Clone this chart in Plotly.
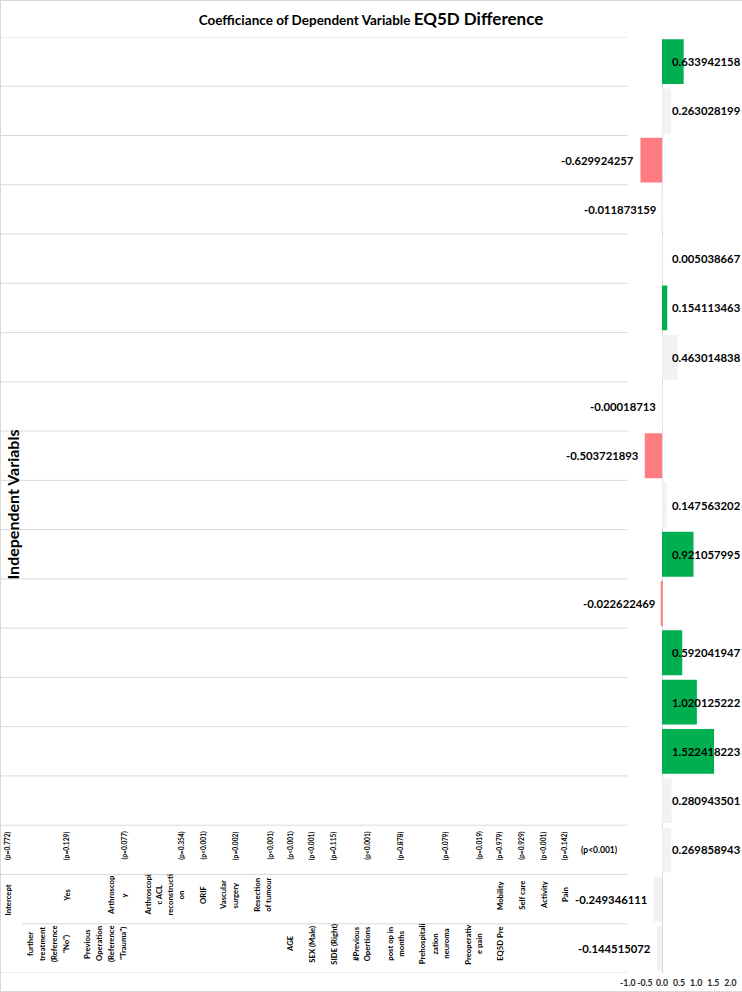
import plotly.graph_objects as go

W, H = 742, 992
MT, MB = 37, 19
PH = H - MT - MB

# ---------------- data (bottom-to-top order, as Excel draws categories) ----------------
categories = ["Intercept", "Yes", "Arthroscopy", "Arthroscopic ACL reconstruction", "ORIF",
              "Vascular surgery", "Resection of tumour", "AGE", "SEX (Male)", "SIDE (Right)",
              "#Previous Opertions", "post op in months", "Prehospitalization neuroma",
              "Preoperative pain", "Mobility", "Self care", "Activity", "Pain", "EQ5D Pre"]
values = [-0.144515072, -0.249346111, 0.269858943, 0.280943501, 1.522418223, 1.020125222,
          0.592041947, -0.022622469, 0.921057995, 0.147563202, -0.503721893, -0.00018713,
          0.463014838, 0.154113463, 0.005038667, -0.011873159, -0.629924257, 0.263028199,
          0.633942158]
value_text = ["-0.144515072", "-0.249346111", "0.269858943", "0.280943501", "1.522418223",
              "1.020125222", "0.592041947", "-0.022622469", "0.921057995", "0.147563202",
              "-0.503721893", "-0.00018713", "0.463014838", "0.154113463", "0.005038667",
              "-0.011873159", "-0.629924257", "0.263028199", "0.633942158"]
p_values = ["(p=0.772)", "(p=0.129)", "(p=0.077)", "(p=0.354)", "(p<0.001)", "(p=0.002)",
            "(p<0.001)", "(p<0.001)", "(p<0.001)", "(p=0.115)", "(p<0.001)", "(p=0.878)",
            "(p=0.079)", "(p=0.019)", "(p=0.979)", "(p=0.929)", "(p<0.001)", "(p=0.142)",
            "(p<0.001)"]
x_ticks = [-1.0, -0.5, 0.0, 0.5, 1.0, 1.5, 2.0]

# category-table texts (rotated labels drawn under the left part of the chart)
label_lines_mid = ["Intercept", "Yes", "Arthroscop", "y", "Arthroscopi", "c ACL", "reconstructi",
                   "on", "ORIF", "Vascular", "surgery", "Resection", "of tumour", "Mobility",
                   "Self care", "Activity", "Pain"]
label_lines_low = ["further", "treatment", "(Reference", "\"No\")", "Previous", "Operation",
                   "(Reference", "\"Trauma\")", "AGE", "SEX (Male)", "SIDE (Right)", "#Previous",
                   "Opertions", "post op in", "months", "Prehospitali", "zation", "neuroma",
                   "Preoperativ", "e pain", "EQ5D Pre"]

# ---------------- layout positions (pixels) ----------------
p_x_px = [7.5, 66.7, 124, 181.3, 203, 235.7, 270, 290, 311.7, 333.7, 367.3, 400.7, 445.7,
          479, 499.7, 521.3, 543.7, 564.7]
mid_x_px = [7.5, 66.7, 111, 123.5, 147.5, 158.5, 169.5, 180.5, 203, 223, 234.5, 256.7, 267.7,
            500, 521.7, 544, 565]
low_x_px = [30, 42, 54, 66, 87, 99, 111, 123, 290, 311.7, 333.7, 356, 367.3, 389.7, 400.7,
            422.2, 434.5, 445.7, 467.7, 479, 499.7]

FONT = "Lato"
GRID = "#D9D9D9"
GREEN, GREY, RED = "#00B050", "#F2F2F2", "#FF7C80"


def px_x(x):
    return x / W


def px_y(y):
    return (H - MB - y) / PH


def significant(p):
    if "<" in p:
        return True
    return float(p.strip("()").split("=")[1]) < 0.05


colors = []
for v, p in zip(values, p_values):
    if significant(p):
        colors.append(GREEN if v > 0 else RED)
    else:
        colors.append(GREY)

fig = go.Figure()
fig.add_trace(go.Bar(
    x=values, y=categories, orientation="h",
    marker=dict(color=colors, line=dict(width=0)),
    hoverinfo="skip", showlegend=False,
))

ann = []
# value labels
for cat, v, t in zip(categories, values, value_text):
    if v >= 0:
        ann.append(dict(x=0, y=cat, xref="x", yref="y", text=t, showarrow=False,
                        xanchor="left", yanchor="middle", xshift=7.5,
                        font=dict(family=FONT, size=11.3, color="#000000", weight="bold")))
    else:
        ann.append(dict(x=v, y=cat, xref="x", yref="y", text=t, showarrow=False,
                        xanchor="right", yanchor="middle", xshift=-4,
                        font=dict(family=FONT, size=11.3, color="#000000", weight="bold")))

# p-value row (rotated)
for t, xp in zip(p_values[:-1], p_x_px):
    ann.append(dict(x=px_x(xp), y=px_y(829), xref="paper", yref="paper", text=t,
                    showarrow=False, textangle=-90, xanchor="center", yanchor="top",
                    font=dict(family=FONT, size=6.7, color="#000000", weight="bold")))
ann.append(dict(x=px_x(599), y=px_y(850), xref="paper", yref="paper", text=p_values[-1],
                showarrow=False, xanchor="center", yanchor="middle",
                font=dict(family=FONT, size=8.5, color="#000000", weight="bold")))

for t, xp in zip(label_lines_mid, mid_x_px):
    yc = 900 if t == "Intercept" else 895
    ann.append(dict(x=px_x(xp), y=px_y(yc), xref="paper", yref="paper", text=t,
                    showarrow=False, textangle=-90, xanchor="center", yanchor="middle",
                    font=dict(family=FONT, size=7.7, color="#000000", weight="bold")))
for t, xp in zip(label_lines_low, low_x_px):
    ann.append(dict(x=px_x(xp), y=px_y(944), xref="paper", yref="paper", text=t,
                    showarrow=False, textangle=-90, xanchor="center", yanchor="middle",
                    font=dict(family=FONT, size=7.7, color="#000000", weight="bold")))

# axis title
ann.append(dict(x=px_x(11.5), y=px_y(505), xref="paper", yref="paper",
                text="Independent Variabls", showarrow=False, textangle=-90,
                xanchor="center", yanchor="middle",
                font=dict(family=FONT, size=16, color="#000000", weight="bold")))

shapes = []
x_dom0 = 627.8 / W
for k in range(len(categories) + 1):
    x0 = px_x(22) if k == 1 else 0
    shapes.append(dict(type="line", xref="paper", yref="y", x0=x0, x1=x_dom0,
                       y0=k - 0.5, y1=k - 0.5, line=dict(color=GRID, width=1)))
# chart border (top, left, bottom)
shapes.append(dict(type="line", xref="paper", yref="paper", x0=0, x1=1,
                   y0=px_y(0.5), y1=px_y(0.5), line=dict(color=GRID, width=1)))
shapes.append(dict(type="line", xref="paper", yref="paper", x0=px_x(0.5), x1=px_x(0.5),
                   y0=px_y(0.5), y1=px_y(991.5), line=dict(color=GRID, width=1)))
shapes.append(dict(type="line", xref="paper", yref="paper", x0=0, x1=1,
                   y0=px_y(991.5), y1=px_y(991.5), line=dict(color=GRID, width=1)))

fig.update_layout(
    width=W, height=H,
    margin=dict(l=0, r=0, t=MT, b=MB, pad=0, autoexpand=False),
    paper_bgcolor="white", plot_bgcolor="white",
    bargap=0.09,
    showlegend=False,
    title=dict(text="Coefficiance of Dependent Variable <span style='font-size:17px'>EQ5D Difference</span>",
               x=0.5, xanchor="center", xref="paper", y=1 - 20 / H, yanchor="middle",
               yref="container",
               font=dict(family=FONT, size=13.5, color="#000000", weight="bold")),
    xaxis=dict(domain=[x_dom0, 730.4 / W], range=[-1, 2], tickvals=x_ticks,
               ticktext=[f"{t:.1f}" for t in x_ticks], tickangle=0, automargin=False,
               showgrid=False, zeroline=True, zerolinecolor=GRID, zerolinewidth=1,
               showline=False, ticks="", ticklabelstandoff=3,
               tickfont=dict(family=FONT, size=8.7, color="#262626", weight="bold")),
    yaxis=dict(type="category", categoryorder="array", categoryarray=categories,
               range=[-0.5, len(categories) - 0.5], showticklabels=False, automargin=False,
               showgrid=False, zeroline=False, showline=False, ticks=""),
    annotations=ann,
    shapes=shapes,
)

fig.write_html("out.html", config={"displayModeBar": False},
               post_script="document.body.style.margin='0';document.body.style.overflow='hidden';")
